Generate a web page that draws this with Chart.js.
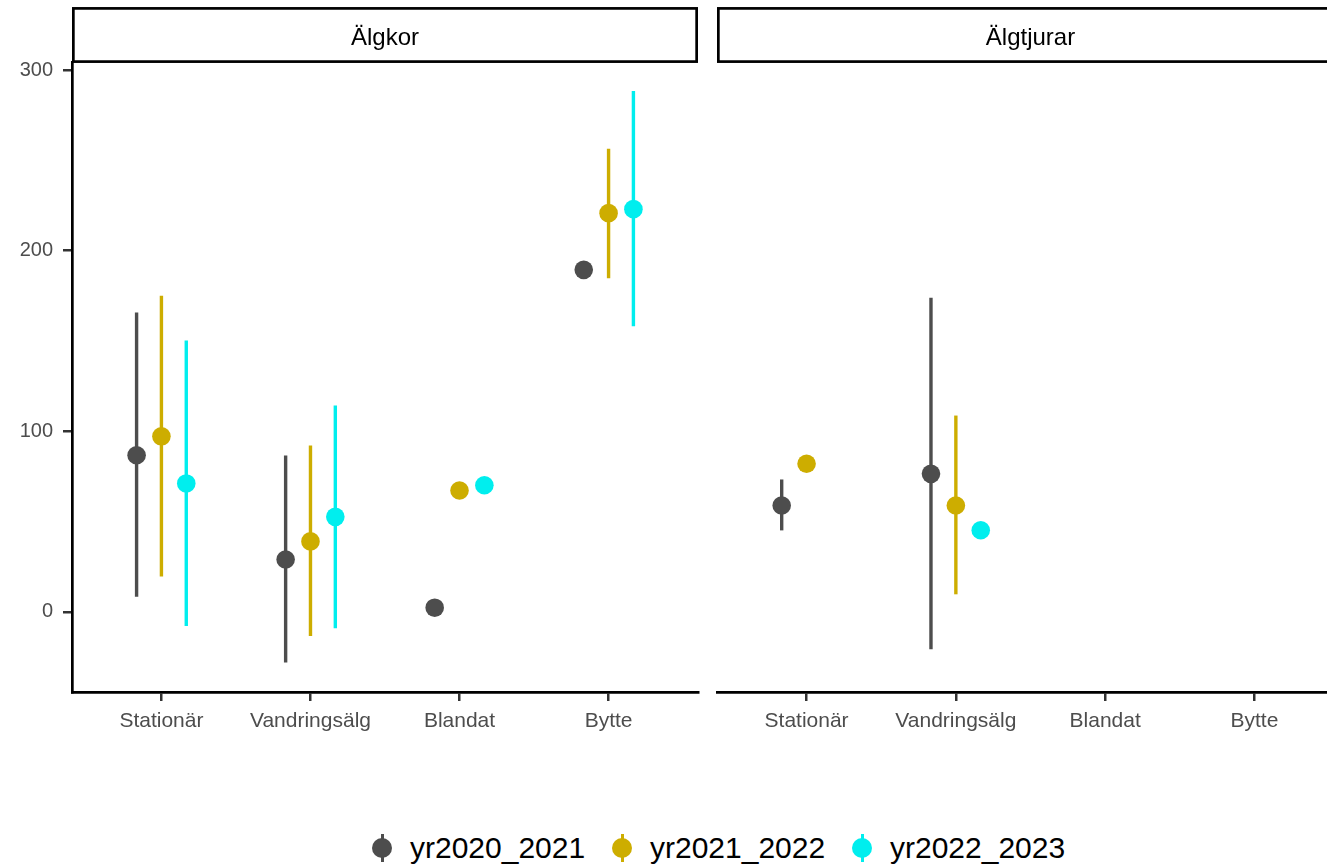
<!DOCTYPE html>
<html>
<head>
<meta charset="utf-8">
<script src="https://cdn.jsdelivr.net/npm/chart.js@4"></script>
<style>
  body { margin: 0; background: #fff; }
  #wrap { position: relative; width: 1327px; height: 867px; overflow: hidden; font-family: "Liberation Sans", Arial, sans-serif; }
  #panelA { position: absolute; left: 0; top: 0; }
  #panelB { position: absolute; left: 700px; top: 0; }
  .item { position: absolute; top: 827px; height: 42px; }
  .key { position: absolute; top: 7px; width: 20px; height: 28px; }
  .key .bar { position: absolute; left: 8.5px; top: 0; width: 3px; height: 28px; }
  .key .dot { position: absolute; left: 0; top: 4px; width: 20px; height: 20px; border-radius: 50%; }
  .lab { position: absolute; left: 38px; top: 0; font-size: 30px; line-height: 42px; color: #000; white-space: nowrap; }
</style>
</head>
<body>
<div id="wrap">
  <canvas id="panelA" width="700" height="760"></canvas>
  <canvas id="panelB" width="645" height="760"></canvas>
  <div id="legend"></div>
</div>
<script>
// kategorier och serier
const categories = ['Stationär', 'Vandringsälg', 'Blandat', 'Bytte'];
const seriesNames = ['yr2020_2021', 'yr2021_2022', 'yr2022_2023'];
const seriesColors = ['#4D4D4D', '#CDAD00', '#00EEEE'];
const yTicks = [0, 100, 200, 300];

// Älgkor
const korMean2020 = [86.7, 29.0, 2.3, 189.4];
const korLow2020  = [8.4, -28.1, null, null];
const korHigh2020 = [165.8, 86.6, null, null];
const korMean2021 = [97.2, 39.0, 67.2, 220.8];
const korLow2021  = [19.5, -13.4, null, 184.8];
const korHigh2021 = [175.1, 92.1, null, 256.4];
const korMean2022 = [71.1, 52.6, 70.1, 223.0];
const korLow2022  = [-7.8, -9.1, null, 158.1];
const korHigh2022 = [150.3, 114.2, null, 288.4];

// Älgtjurar
const tjurMean2020 = [58.9, 76.4, null, null];
const tjurLow2020  = [45.1, -20.7, null, null];
const tjurHigh2020 = [73.3, 174.0, null, null];
const tjurMean2021 = [82.0, 58.9, null, null];
const tjurLow2021  = [null, 9.7, null, null];
const tjurHigh2021 = [null, 108.7, null, null];
const tjurMean2022 = [null, 45.2, null, null];
const tjurLow2022  = [null, null, null, null];
const tjurHigh2022 = [null, null, null, null];

const yMin = -44.4, yMax = 304.5;
const dodge = [-1 / 6, 0, 1 / 6];
const font = '"Liberation Sans", Arial, sans-serif';

// felstaplar ritas med skalornas egna pixelvärden
const errorBars = {
    id: 'errorBars',
    beforeDatasetsDraw(chart) {
        const ctx = chart.ctx;
        const y = chart.scales.y;
        const x = chart.scales.x;
        ctx.save();
        chart.data.datasets.forEach((ds, i) => {
            ds.data.forEach((p, j) => {
                if (ds.lo[j] == null || ds.hi[j] == null) return;
                const px = x.getPixelForValue(p.x);
                ctx.strokeStyle = ds.backgroundColor;
                ctx.lineWidth = 3.4;
                ctx.beginPath();
                ctx.moveTo(px, y.getPixelForValue(ds.lo[j]));
                ctx.lineTo(px, y.getPixelForValue(ds.hi[j]));
                ctx.stroke();
            });
        });
        ctx.restore();
    }
};

// facettrubrik ovanför panelen
const strip = {
    id: 'strip',
    afterDraw(chart, args, opts) {
        const ctx = chart.ctx;
        const a = chart.chartArea;
        ctx.save();
        ctx.strokeStyle = '#000';
        ctx.lineWidth = 2.7;
        ctx.strokeRect(a.left + 1.35, 8.4, a.right - a.left - 2.7, 53.2);
        ctx.fillStyle = '#000';
        ctx.font = '24px ' + font;
        ctx.textAlign = 'center';
        ctx.textBaseline = 'alphabetic';
        ctx.fillText(opts.title, (a.left + a.right) / 2, 45);
        ctx.restore();
    }
};

function makePanel(id, title, means, lows, highs, showY, padLeft, padRight) {
    const datasets = means.map((m, i) => ({
        label: seriesNames[i],
        data: m.map((v, j) => ({ x: j + dodge[i], y: v })),
        lo: lows[i],
        hi: highs[i],
        backgroundColor: seriesColors[i],
        borderWidth: 0,
        pointRadius: 9.3
    }));

    return new Chart(document.getElementById(id), {
        type: 'scatter',
        data: { datasets: datasets },
        options: {
            responsive: false,
            animation: false,
            events: [],
            layout: { autoPadding: false, padding: { top: 62, left: padLeft, right: padRight, bottom: 18 } },
            plugins: {
                legend: { display: false },
                tooltip: { enabled: false },
                strip: { title: title }
            },
            scales: {
                x: {
                    type: 'linear',
                    min: -0.6,
                    max: 3.6,
                    afterBuildTicks: s => { s.ticks = categories.map((c, i) => ({ value: i })); },
                    afterFit: s => { s.height = 50; },
                    ticks: {
                        callback: v => categories[v],
                        color: '#4D4D4D',
                        font: { family: font, size: 21 },
                        padding: 8,
                        maxRotation: 0,
                        autoSkip: false
                    },
                    grid: { drawOnChartArea: false, tickLength: 9, lineWidth: 2.5, tickColor: '#333333' },
                    border: { color: '#000', width: 2.7 }
                },
                y: {
                    display: showY,
                    min: yMin,
                    max: yMax,
                    afterBuildTicks: s => { s.ticks = yTicks.map(v => ({ value: v })); },
                    afterFit: s => { if (showY) s.width = 72; },
                    ticks: {
                        color: '#4D4D4D',
                        font: { family: font, size: 20 },
                        padding: 10
                    },
                    grid: { drawOnChartArea: false, tickLength: 9, lineWidth: 2.5, tickColor: '#333333' },
                    border: { color: '#000', width: 2.7 }
                }
            }
        },
        plugins: [errorBars, strip]
    });
}

makePanel('panelA', 'Älgkor',
    [korMean2020, korMean2021, korMean2022],
    [korLow2020, korLow2021, korLow2022],
    [korHigh2020, korHigh2021, korHigh2022],
    true, 0, 2);

makePanel('panelB', 'Älgtjurar',
    [tjurMean2020, tjurMean2021, tjurMean2022],
    [tjurLow2020, tjurLow2021, tjurLow2022],
    [tjurHigh2020, tjurHigh2021, tjurHigh2022],
    false, 17, 1);

// förklaring längst ned
const legend = document.getElementById('legend');
const keyLeft = [372, 612, 852];
seriesNames.forEach((name, i) => {
    const item = document.createElement('div');
    item.className = 'item';
    item.style.left = keyLeft[i] + 'px';
    item.innerHTML = `<div class="key"><div class="bar" style="background:${seriesColors[i]}"></div>
        <div class="dot" style="background:${seriesColors[i]}"></div></div>
        <span class="lab">${name}</span>`;
    legend.appendChild(item);
});
</script>
</body>
</html>
